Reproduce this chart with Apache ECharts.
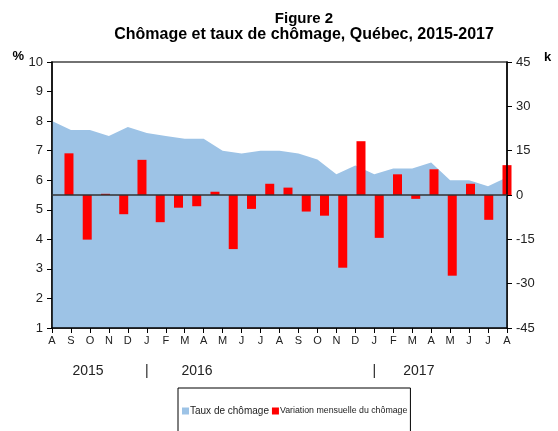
<!DOCTYPE html>
<html>
<head>
<meta charset="utf-8">
<script src="https://cdn.jsdelivr.net/npm/echarts@6/dist/echarts.min.js"></script>
<style>
html,body{margin:0;padding:0;background:#fff;}
#chart{width:558px;height:431px;}
</style>
</head>
<body>
<div id="chart"></div>
<script>
// Months Aug 2015 .. Aug 2017
const months = ['A','S','O','N','D','J','F','M','A','M','J','J','A','S','O','N','D','J','F','M','A','M','J','J','A'];
// Taux de chômage (%)
const rates = [8.0,7.7,7.7,7.5,7.8,7.6,7.5,7.4,7.4,7.0,6.9,7.0,7.0,6.9,6.7,6.2,6.5,6.2,6.4,6.4,6.6,6.0,6.0,5.8,6.1];
// Variation mensuelle du chômage (k)
const changes = [14.1,-15.1,0.4,-6.5,11.9,-9.2,-4.3,-3.8,1.1,-18.3,-4.7,3.8,2.5,-5.6,-7.0,-24.6,18.2,-14.5,7.0,-1.3,8.7,-27.3,3.8,-8.4,10.1];
// Left axis ticks (%), right axis ticks (k): [min, max, interval]
const leftTicks = [1,10,1];
const rightTicks = [-45,45,15];
// Year labels under month axis (value = month index)
const yearPos = [1.9,5,7.65,17,19.35];
const yearText = ['2015','|','2016','|','2017'];

const FONT = 'Liberation Sans, Arial, sans-serif';
const BAR_NAME = 'Variation mensuelle du chômage';
const chart = echarts.init(document.getElementById('chart'));
const axisLineStyle = {color:'#000', width:1.5};

chart.setOption({
  animation:false,
  textStyle:{fontFamily:FONT},
  title:[
    {text:'Figure 2', left:299, top:6, textAlign:'center',
     textStyle:{fontFamily:FONT, fontSize:15, fontWeight:'bold', color:'#000'}},
    {text:'Chômage et taux de chômage, Québec, 2015-2017', left:299, top:22, textAlign:'center',
     textStyle:{fontFamily:FONT, fontSize:16, fontWeight:'bold', color:'#000'}}
  ],
  legend:{
    left:178, top:388,
    padding:[18,3,20,4],
    borderColor:'#000', borderWidth:1,
    itemWidth:7, itemHeight:7, itemGap:3,
    formatter:function(name){return name===BAR_NAME ? '{s|'+name+'}' : name;},
    textStyle:{fontFamily:FONT, fontSize:10, color:'#222', padding:[0,0,0,-4],
      rich:{s:{fontFamily:FONT, fontSize:8.8, color:'#222'}}},
    data:[{name:'Taux de chômage', icon:'rect'},{name:BAR_NAME, icon:'rect'}]
  },
  grid:{left:52, right:51, top:62, bottom:103, outerBoundsMode:'none', containLabel:false,
        show:true, borderColor:'#444', borderWidth:1.5, backgroundColor:'transparent'},
  xAxis:[
    {type:'category', data:months, boundaryGap:false, position:'bottom', z:10,
     axisLine:{onZero:false, lineStyle:axisLineStyle},
     axisTick:{show:true, length:5, interval:0, lineStyle:{color:'#000'}},
     axisLabel:{interval:0, fontSize:11, color:'#222', margin:7, fontFamily:FONT},
     splitLine:{show:false}},
    {type:'value', min:-0.93, max:24, position:'bottom', z:10,
     axisLine:{show:true, onZero:true, onZeroAxisIndex:1, lineStyle:{color:'#333', width:1.5}},
     axisTick:{show:false}, axisLabel:{show:false}, splitLine:{show:false}},
    {type:'value', min:0, max:months.length-1, position:'bottom', offset:28,
     axisLine:{show:false, onZero:false}, axisTick:{show:false}, splitLine:{show:false},
     axisLabel:{show:true, customValues:yearPos, fontSize:14, color:'#222', fontFamily:FONT,
       formatter:function(v){const i=yearPos.indexOf(v);return i>=0?yearText[i]:'';}}}
  ],
  yAxis:[
    {type:'value', min:leftTicks[0], max:leftTicks[1], interval:leftTicks[2], position:'left', z:10,
     name:'%', nameLocation:'end', nameGap:6, nameMoveOverlap:false,
     nameTextStyle:{fontFamily:FONT, fontSize:13, fontWeight:'bold', color:'#000', align:'right', verticalAlign:'middle', padding:[0,28,0,0]},
     axisLine:{show:true, onZero:false, lineStyle:axisLineStyle},
     axisTick:{show:true, length:5, lineStyle:{color:'#000'}},
     axisLabel:{fontSize:13, color:'#222', margin:9, fontFamily:FONT},
     splitLine:{show:false}},
    {type:'value', min:rightTicks[0], max:rightTicks[1], interval:rightTicks[2], position:'right', z:10,
     name:'k', nameLocation:'end', nameGap:5, nameMoveOverlap:false,
     nameTextStyle:{fontFamily:FONT, fontSize:13, fontWeight:'bold', color:'#000', align:'left', verticalAlign:'middle', padding:[0,0,0,37]},
     axisLine:{show:true, onZero:false, lineStyle:axisLineStyle},
     axisTick:{show:true, length:5, lineStyle:{color:'#000'}},
     axisLabel:{fontSize:13, color:'#222', margin:9, fontFamily:FONT},
     splitLine:{show:false}}
  ],
  series:[
    {name:'Taux de chômage', type:'line', xAxisIndex:0, yAxisIndex:0, data:rates,
     symbol:'none', lineStyle:{width:0, color:'#9DC3E6'}, itemStyle:{color:'#9DC3E6'},
     areaStyle:{color:'#9DC3E6', opacity:1, origin:'start'}, z:1},
    {name:BAR_NAME, type:'bar', xAxisIndex:1, yAxisIndex:1,
     data:changes.map(function(v,i){return [i,v];}),
     barWidth:9, clip:true, itemStyle:{color:'#FF0000'}, z:3}
  ]
});
</script>
</body>
</html>
